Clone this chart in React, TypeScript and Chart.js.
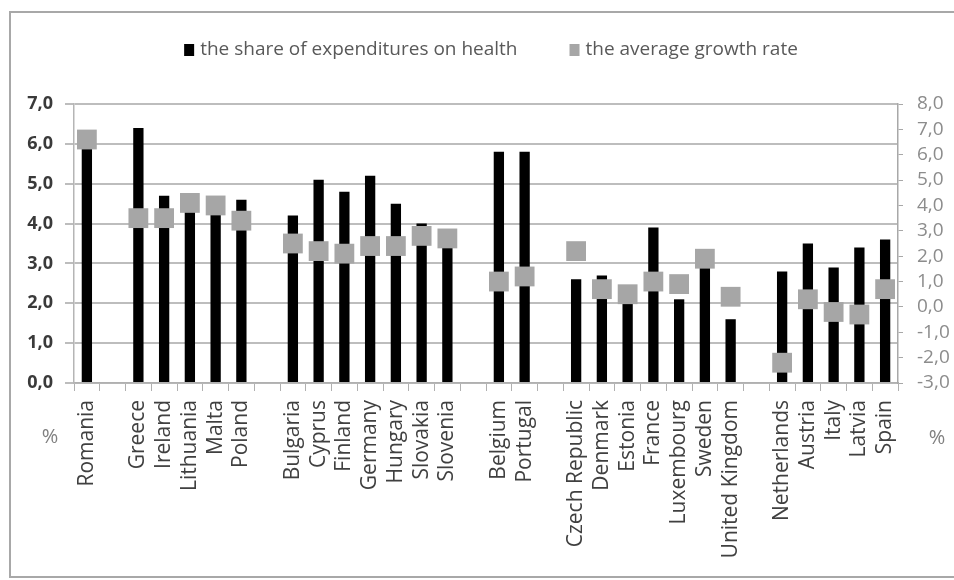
import React, { useEffect, useRef } from "react";
import { Chart, registerables } from "chart.js";

Chart.register(...registerables);

const categories: string[] = [
  "Romania", "",
  "Greece", "Ireland", "Lithuania", "Malta", "Poland", "",
  "Bulgaria", "Cyprus", "Finland", "Germany", "Hungary", "Slovakia", "Slovenia", "",
  "Belgium", "Portugal", "",
  "Czech Republic", "Denmark", "Estonia", "France", "Luxembourg", "Sweden", "United Kingdom", "",
  "Netherlands", "Austria", "Italy", "Latvia", "Spain",
];

const healthShare: (number | null)[] = [
  5.9, null,
  6.4, 4.7, 4.3, 4.3, 4.6, null,
  4.2, 5.1, 4.8, 5.2, 4.5, 4.0, 3.6, null,
  5.8, 5.8, null,
  2.6, 2.7, 2.0, 3.9, 2.1, 3.0, 1.6, null,
  2.8, 3.5, 2.9, 3.4, 3.6,
];

const growthRate: (number | null)[] = [
  6.6, null,
  3.5, 3.5, 4.1, 4.0, 3.4, null,
  2.5, 2.2, 2.1, 2.4, 2.4, 2.8, 2.7, null,
  1.0, 1.2, null,
  2.2, 0.7, 0.5, 1.0, 0.9, 1.9, 0.4, null,
  -2.2, 0.3, -0.2, -0.3, 0.7,
];

const seriesLabels = ["the share of expenditures on health", "the average growth rate"];
const axisTitle = "%";

const FONT = '"Open Sans", "DejaVu Sans", sans-serif';
const fmt = (v: number | string) => Number(v).toFixed(1).replace(".", ",");

const framePlugin = {
  id: "frame",
  beforeDraw(chart: any) {
    const ctx = chart.ctx;
    ctx.save();
    ctx.fillStyle = "#ffffff";
    ctx.fillRect(0, 0, chart.width, chart.height);
    ctx.strokeStyle = "#a8a8a8";
    ctx.lineWidth = 2;
    ctx.strokeRect(10, 12, chart.width + 10, chart.height - 15);
    ctx.restore();
  },
};

const legendPlugin = {
  id: "customLegend",
  afterDraw(chart: any) {
    const ctx = chart.ctx;
    ctx.save();
    ctx.font = `19px ${FONT}`;
    ctx.textBaseline = "middle";
    const items = chart.data.datasets.map((ds: any) => ({
      label: ds.label as string,
      color: (ds.type === "line" ? ds.pointBackgroundColor : ds.backgroundColor) as string,
    }));
    const box = 10;
    const gapText = 6;
    const gapItems = 52;
    const widths = items.map((it: any) => box + gapText + ctx.measureText(it.label).width);
    const total = widths.reduce((a: number, b: number) => a + b, 0) + gapItems * (items.length - 1);
    let x = 491 - total / 2;
    const y = 50;
    items.forEach((it: any, i: number) => {
      ctx.fillStyle = it.color;
      ctx.fillRect(x, y - 6, box, 12);
      ctx.fillStyle = "#595959";
      ctx.textAlign = "left";
      ctx.fillText(it.label, x + box + gapText, y);
      x += widths[i] + gapItems;
    });
    // axis titles
    ctx.font = `20px ${FONT}`;
    ctx.fillStyle = "#808080";
    ctx.textAlign = "center";
    ctx.fillText(axisTitle, 50, 437);
    ctx.fillText(axisTitle, 937, 438);
    ctx.restore();
  },
};

export default function App() {
  const ref = useRef<HTMLCanvasElement | null>(null);

  useEffect(() => {
    if (!ref.current) return;
    const chart = new Chart(ref.current, {
      type: "bar",
      data: {
        labels: categories,
        datasets: [
          {
            type: "bar",
            label: seriesLabels[0],
            data: healthShare,
            backgroundColor: "#000000",
            borderWidth: 0,
            barPercentage: 0.4,
            categoryPercentage: 1,
            yAxisID: "y",
            order: 2,
          } as any,
          {
            type: "line",
            label: seriesLabels[1],
            data: growthRate,
            showLine: false,
            pointStyle: "rect",
            pointRadius: 14,
            pointBorderWidth: 0,
            pointBackgroundColor: "#a6a6a6",
            pointBorderColor: "#a6a6a6",
            backgroundColor: "#a6a6a6",
            borderColor: "#a6a6a6",
            yAxisID: "y1",
            order: 1,
          } as any,
        ],
      },
      options: {
        responsive: false,
        animation: false,
        devicePixelRatio: 1,
        layout: { padding: { top: 104, left: 0, right: 0, bottom: 0 } },
        plugins: {
          legend: { display: false },
          tooltip: { enabled: false },
        },
        scales: {
          x: {
            offset: true,
            grid: {
              offset: true,
              drawOnChartArea: false,
              drawTicks: true,
              tickLength: 8,
              color: "#b0b0b0",
              lineWidth: 1,
            },
            border: { display: true, color: "#b0b0b0", width: 1.5 },
            ticks: {
              autoSkip: false,
              maxRotation: 90,
              minRotation: 90,
              padding: 9,
              color: "#404040",
              font: { family: FONT, size: 21 },
            },
            afterFit: (s: any) => {
              s.height = 197;
            },
          },
          y: {
            position: "left",
            min: 0,
            max: 7,
            ticks: {
              stepSize: 1,
              autoSkip: false,
              padding: 12,
              color: "#3a3a3a",
              font: { family: FONT, size: 18, weight: "bold" },
              callback: (v: any) => fmt(v),
            },
            grid: {
              color: "#bdbdbd",
              lineWidth: 2,
              tickLength: 9,
            },
            border: { display: true, color: "#b5b5b5", width: 1.5 },
            afterFit: (s: any) => {
              s.width = 74;
            },
          },
          y1: {
            position: "right",
            min: -3,
            max: 8,
            ticks: {
              stepSize: 1,
              autoSkip: false,
              padding: 14,
              color: "#8c8c8c",
              font: { family: FONT, size: 19 },
              callback: (v: any) => fmt(v),
            },
            grid: {
              drawOnChartArea: false,
              color: "#a8a8a8",
              lineWidth: 1,
              tickLength: 5,
            },
            border: { display: true, color: "#a8a8a8", width: 1.5 },
            afterFit: (s: any) => {
              s.width = 56;
            },
          },
        },
      },
      plugins: [framePlugin, legendPlugin],
    });
    return () => chart.destroy();
  }, []);

  return (
    <div style={{ position: "fixed", left: 0, top: 0, width: 954, height: 580, background: "#fff" }}>
      <canvas ref={ref} width={954} height={580} style={{ display: "block" }} />
    </div>
  );
}
